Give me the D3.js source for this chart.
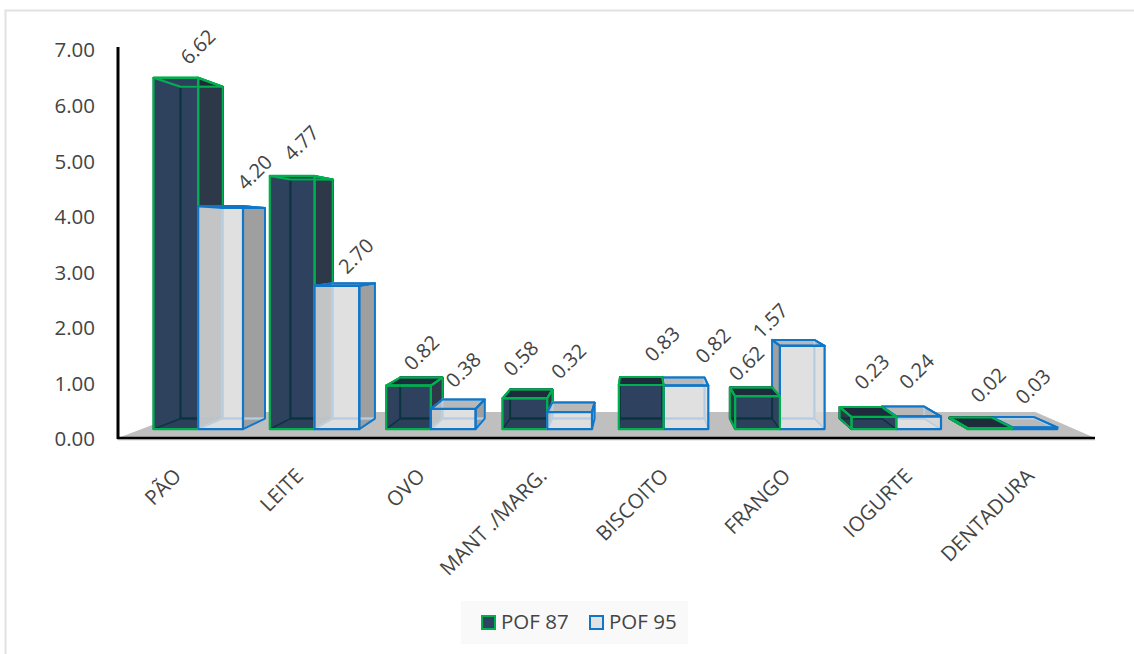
<!DOCTYPE html>
<html>
<head>
<meta charset="utf-8">
<script src="https://cdn.jsdelivr.net/npm/d3@7/dist/d3.min.js"></script>
<style>
html,body{margin:0;padding:0;background:#fff}
svg{display:block}
text{font-family:"Open Sans","Noto Sans",sans-serif;fill:#444}
</style>
</head>
<body>
<svg id="chart" width="1134" height="654"></svg>
<script>
// Food items and the two survey waves
const categories = ["PÃO","LEITE","OVO","MANT ./MARG.","BISCOITO","FRANGO","IOGURTE","DENTADURA"];
const seriesNames = ["POF 87","POF 95"];
const pof87 = [6.62,4.77,0.82,0.58,0.83,0.62,0.23,0.02];
const pof95 = [4.20,2.70,0.38,0.32,0.82,1.57,0.24,0.03];
const yTicks = [0,1,2,3,4,5,6,7];

// Hand placement of the value labels, relative to the top centre of each bar
const labelNudge87 = [[22,-31],[9,-33],[13,-33],[-4,-40],[21,-41],[-11,-33],[-2,-45],[-2,-43]];
const labelNudge95 = [[34,-34],[19,-30],[10,-39],[-1,-51],[27,-40],[-32,-25],[-2,-45],[-2,-41]];

const palette = {
  "POF 87": {front:"#2e4361", back:"#2c3e55", side:"#2d3848", top:"#1e2b3a", bottom:"#1c2c40", line:"#00b050", inner:"#0a3340", frontOpacity:0.86, hiddenOpacity:1},
  "POF 95": {front:"#e2e2e2", back:"#d8d8d8", side:"#9f9f9f", top:"#b8b8b8", bottom:"#d4d4d4", line:"#0f76c8", inner:"#b4cde2", frontOpacity:0.78, hiddenOpacity:0.35}
};

const svg = d3.select("#chart");

// Frame around the chart area
svg.append("path").attr("d","M5.5,654V10.5H1134").attr("fill","none").attr("stroke","#e2e2e2").attr("stroke-width",2);

const x = d3.scaleBand().domain(categories).range([116.5,1091]);
const x1 = d3.scaleBand().domain(seriesNames).range([0,x.bandwidth()]).paddingInner(0).paddingOuter(0.3);
const y = d3.scaleLinear().domain([0,7]).range([438,49]);

// Perspective: points recede toward a single vanishing point
const vanish = [640,240];
const depthFront = 0.045, depthBack = 0.098, depthFloor = 0.131;
const project = (px,py,d) => [vanish[0]+(px-vanish[0])*(1-d), vanish[1]+(py-vanish[1])*(1-d)];
const quad = pts => "M"+pts.map(p=>p.map(n=>n.toFixed(1)).join(",")).join("L")+"Z";

// Floor
const floorPts = [project(118,y(0),0),project(1095,y(0),0),project(1095,y(0),depthFloor),project(118,y(0),depthFloor)];
svg.append("path").attr("d",quad(floorPts)).attr("fill","#bfbfbf");

// Axis lines
svg.append("line").attr("x1",118).attr("x2",1095).attr("y1",y(0)+1).attr("y2",y(0)+1).attr("stroke","#d9d9d9").attr("stroke-width",3);
svg.append("line").attr("x1",118).attr("x2",118).attr("y1",47).attr("y2",439).attr("stroke","#000").attr("stroke-width",3);
svg.append("line").attr("x1",117).attr("x2",1095).attr("y1",y(0)).attr("y2",y(0)).attr("stroke","#000").attr("stroke-width",2.5);

// Value axis labels
svg.append("g").selectAll("text").data(yTicks).join("text")
  .attr("x",95).attr("y",d=>y(d)+1).attr("dy","0.36em").attr("text-anchor","end")
  .attr("font-size",20.5).text(d=>d.toFixed(2));

// One 3D box per value
const bars = [];
categories.forEach((c,i)=>{
  const group = [
    {cat:c,series:seriesNames[0],value:pof87[i],nudge:labelNudge87[i]},
    {cat:c,series:seriesNames[1],value:pof95[i],nudge:labelNudge95[i]}
  ];
  group.forEach(b=>{
    b.x0 = x(c)+x1(b.series);
    b.x1 = b.x0+x1.bandwidth();
  });
  // Within a pair, the box farther from the vanishing point is painted first
  group.sort((a,b)=>Math.abs((b.x0+b.x1)/2-vanish[0])-Math.abs((a.x0+a.x1)/2-vanish[0]));
  bars.push(...group);
});

const barLayer = svg.append("g");
bars.forEach(b=>{
  const col = palette[b.series];
  const top = y(b.value), base = y(0);
  const f = (px,py)=>project(px,py,depthFront);
  const k = (px,py)=>project(px,py,depthBack);
  const g = barLayer.append("g").attr("stroke-linejoin","round");
  const face = (pts,fill,stroke,sw,op)=>g.append("path").attr("d",quad(pts)).attr("fill",fill)
    .attr("fill-opacity",op==null?1:op).attr("stroke",stroke).attr("stroke-width",sw);

  const backFace = [k(b.x0,top),k(b.x1,top),k(b.x1,base),k(b.x0,base)];
  const floorFace = [k(b.x0,base),k(b.x1,base),f(b.x1,base),f(b.x0,base)];
  const leftFace = [f(b.x0,top),k(b.x0,top),k(b.x0,base),f(b.x0,base)];
  const rightFace = [f(b.x1,top),k(b.x1,top),k(b.x1,base),f(b.x1,base)];
  const topFace = [f(b.x0,top),f(b.x1,top),k(b.x1,top),k(b.x0,top)];
  const frontFace = [f(b.x0,top),f(b.x1,top),f(b.x1,base),f(b.x0,base)];
  const leftVisible = f(b.x0,0)[0] > k(b.x0,0)[0];
  const rightVisible = k(b.x1,0)[0] > f(b.x1,0)[0];

  face(backFace,col.back,col.inner,2);
  face(floorFace,col.bottom,col.inner,1.5);
  face(leftFace,col.side,col.inner,1.5,leftVisible?1:col.hiddenOpacity);
  face(rightFace,col.side,col.inner,1.5,rightVisible?1:col.hiddenOpacity);
  face(topFace,col.top,col.line,2);
  face(frontFace,col.front,"none",0,col.frontOpacity);

  // Hidden back edges show through the translucent front
  face(backFace,"none",col.inner,2);
  face(floorFace,"none",col.inner,1.5);

  // Outer edges stay on top
  if (leftVisible) face(leftFace,"none",col.line,2);
  if (rightVisible) face(rightFace,"none",col.line,2);
  face(topFace,"none",col.line,2);
  face(frontFace,"none",col.line,2.2);
});

// Value labels, set on the diagonal
svg.append("g").selectAll("text").data(bars).join("text")
  .attr("transform",d=>{
    const p = project((d.x0+d.x1)/2,y(d.value),depthFront);
    return `translate(${p[0]+d.nudge[0]},${p[1]+d.nudge[1]}) rotate(-45)`;
  })
  .attr("text-anchor","middle").attr("dy","0.36em").attr("font-size",20)
  .text(d=>d.value.toFixed(2));

// Category labels
svg.append("g").selectAll("text").data(categories).join("text")
  .attr("transform",d=>`translate(${x(d)+x.bandwidth()/2},472) rotate(-45)`)
  .attr("text-anchor","end").attr("dy","0.36em").attr("font-size",20.5)
  .text(d=>d);

// Legend
svg.append("rect").attr("x",461).attr("y",601).attr("width",227).attr("height",43).attr("fill","#f9f9f9");
const legendX = [481,589];
seriesNames.forEach((s,i)=>{
  svg.append("rect").attr("x",legendX[i]+1).attr("y",616).attr("width",13).attr("height",13)
    .attr("fill",palette[s].front).attr("stroke",palette[s].line).attr("stroke-width",2);
  svg.append("text").attr("x",legendX[i]+20).attr("y",622).attr("dy","0.36em").attr("font-size",20.5).text(s);
});
</script>
</body>
</html>
